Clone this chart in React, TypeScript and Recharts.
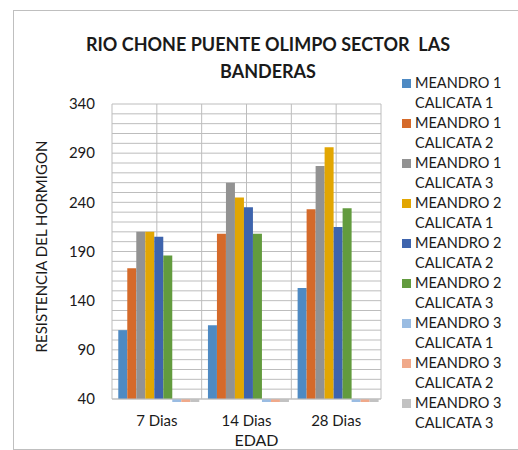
import { BarChart, Bar, XAxis, YAxis, CartesianGrid, Legend } from 'recharts';

const edades = ['7 Dias', '14 Dias', '28 Dias'];

const meandro1Calicata1 = [110, 115, 153];
const meandro1Calicata2 = [173, 208, 233];
const meandro1Calicata3 = [210, 260, 277];
const meandro2Calicata1 = [210, 245, 296];
const meandro2Calicata2 = [205, 235, 215];
const meandro2Calicata3 = [186, 208, 234];
// meandro 3 has no result, the bars sit on the axis minimum
const meandro3Calicata1 = [40, 40, 40];
const meandro3Calicata2 = [40, 40, 40];
const meandro3Calicata3 = [40, 40, 40];

const yTicks = [40, 90, 140, 190, 240, 290, 340];
const gridLines = Array.from({ length: 31 }, (_, i) => 40 + i * 10);

const series = [
  { key: 'm1c1', name: 'MEANDRO 1 CALICATA 1', values: meandro1Calicata1, color: '#4E8AC3' },
  { key: 'm1c2', name: 'MEANDRO 1 CALICATA 2', values: meandro1Calicata2, color: '#D56A2A' },
  { key: 'm1c3', name: 'MEANDRO 1 CALICATA 3', values: meandro1Calicata3, color: '#929292' },
  { key: 'm2c1', name: 'MEANDRO 2 CALICATA 1', values: meandro2Calicata1, color: '#E2A602' },
  { key: 'm2c2', name: 'MEANDRO 2 CALICATA 2', values: meandro2Calicata2, color: '#3E64AD' },
  { key: 'm2c3', name: 'MEANDRO 2 CALICATA 3', values: meandro2Calicata3, color: '#629B3E' },
  { key: 'm3c1', name: 'MEANDRO 3 CALICATA 1', values: meandro3Calicata1, color: '#9ABCE2' },
  { key: 'm3c2', name: 'MEANDRO 3 CALICATA 2', values: meandro3Calicata2, color: '#F0A98A' },
  { key: 'm3c3', name: 'MEANDRO 3 CALICATA 3', values: meandro3Calicata3, color: '#C2C2C2' },
];

const data = edades.map((edad, i) => {
  const row: Record<string, string | number> = { edad };
  for (const s of series) row[s.key] = s.values[i];
  return row;
});

const FONT = 'Lato, "Noto Sans", sans-serif';
const TEXT = '#1A1A1A';

function LegendList({ payload }: any) {
  return (
    <div style={{ fontFamily: FONT, fontSize: 14.5, color: TEXT }}>
      {(payload || []).map((p: any) => (
        <div key={p.value} style={{ display: 'flex', alignItems: 'flex-start', lineHeight: '20px' }}>
          <span
            style={{
              display: 'inline-block', width: 9, height: 9, background: p.color,
              marginTop: 6, marginRight: 4, flex: 'none',
            }}
          />
          <span style={{ width: 95 }}>{p.value}</span>
        </div>
      ))}
    </div>
  );
}

export default function App() {
  return (
    <div style={{ position: 'absolute', left: 0, top: 0, width: 518, height: 450, overflow: 'hidden', fontFamily: FONT }}>
      <div
        style={{
          position: 'absolute', left: 13, top: 10, width: 600, height: 440,
          border: '1px solid #BFBFBF', boxSizing: 'border-box',
        }}
      />
      <div
        style={{
          position: 'absolute', left: 68, top: 31, width: 400, textAlign: 'center',
          fontWeight: 700, fontSize: 18, lineHeight: '26.5px', color: TEXT, whiteSpace: 'pre',
        }}
      >
        {'RIO CHONE PUENTE OLIMPO SECTOR  LAS\nBANDERAS'}
      </div>
      <BarChart
        width={518}
        height={450}
        data={data}
        margin={{ top: 104, right: 137, bottom: 21, left: 20 }}
        barCategoryGap="7%"
        barGap={0}
        style={{ position: 'absolute', left: 0, top: 0 }}
      >
        <CartesianGrid
          stroke="#BDBDBD"
          horizontalValues={gridLines}
          verticalCoordinatesGenerator={({ offset }: any) =>
            [0, 1, 2, 3, 4, 5, 6].map((i) => offset.left + (i * offset.width) / 6)
          }
        />
        <XAxis
          dataKey="edad"
          height={30}
          tickLine={false}
          tickMargin={10}
          axisLine={{ stroke: '#BFBFBF' }}
          tick={{ fontSize: 15, fill: TEXT, fontFamily: FONT }}
          label={{ value: 'EDAD', position: 'bottom', offset: 6, dx: 10, fontSize: 16, fill: TEXT, fontFamily: FONT }}
        />
        <YAxis
          width={92}
          domain={[40, 340]}
          ticks={yTicks}
          interval={0}
          tickLine={false}
          axisLine={false}
          tickMargin={11}
          tick={{ fontSize: 15, fill: TEXT, fontFamily: FONT }}
          label={{
            value: 'RESISTENCIA DEL HORMIGON', angle: -90, position: 'center', dx: -24, dy: -5,
            fontSize: 15, fill: TEXT, fontFamily: FONT,
          }}
        />
        <Legend
          layout="vertical"
          align="center"
          verticalAlign="middle"
          content={<LegendList />}
          wrapperStyle={{ position: 'absolute', left: 402, top: 73, width: 116 }}
        />
        {series.map((s) => (
          <Bar
            key={s.key}
            dataKey={s.key}
            name={s.name}
            fill={s.color}
            minPointSize={s.key.startsWith('m3') ? -3 : 0}
            isAnimationActive={false}
          />
        ))}
      </BarChart>
    </div>
  );
}
